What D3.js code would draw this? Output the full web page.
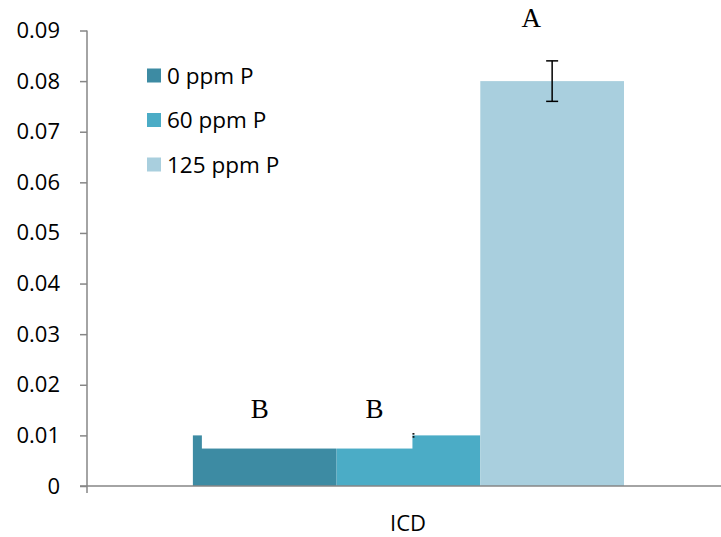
<!DOCTYPE html>
<html lang="en">
<head>
<meta charset="utf-8">
<script src="https://d3js.org/d3.v7.min.js"></script>
<style>
  body { margin: 0; background: #fff; }
  svg text { font-family: "Open Sans", Lato, sans-serif; }
</style>
</head>
<body>
<div id="chart"></div>
<script>
// data
const categories = ["ICD"];
const seriesNames = ["0 ppm P", "60 ppm P", "125 ppm P"];
const seriesValues = [0.01, 0.01, 0.08];
const seriesErrors = [0.0003, 0.0003, 0.004];
const letters = ["B", "B", "A"];
const yTicks = [0, 0.01, 0.02, 0.03, 0.04, 0.05, 0.06, 0.07, 0.08, 0.09];
const colours = ["#3d8ba3", "#4bacc6", "#a9cfde"];

const W = 721, H = 537;
const svg = d3.select("#chart").append("svg")
    .attr("width", W).attr("height", H);

const x0 = d3.scaleBand().domain(categories).range([87, 721]);
const x1 = d3.scaleBand().domain(seriesNames)
    .range([x0.bandwidth() * 0.167, x0.bandwidth() * 0.847]);
const y = d3.scaleLinear().domain([0, 0.09]).range([486, 30.5]);

const rows = seriesNames.map((s, i) => ({ name: s, value: seriesValues[i], err: seriesErrors[i], letter: letters[i], cat: categories[0] }));
const cx = d => x0(d.cat) + x1(d.name) + x1.bandwidth() / 2;

// bars
svg.selectAll("rect.bar").data(rows).join("rect")
    .attr("class", "bar")
    .attr("x", d => x0(d.cat) + x1(d.name))
    .attr("y", d => y(d.value))
    .attr("width", x1.bandwidth())
    .attr("height", d => y(0) - y(d.value))
    .attr("fill", (d, i) => colours[i]);

// error bars
const eb = svg.selectAll("g.err").data(rows).join("g").attr("class", "err")
    .attr("stroke", "#000").attr("stroke-width", 1.5);
eb.append("line").attr("x1", cx).attr("x2", cx)
    .attr("y1", d => y(d.value + d.err)).attr("y2", d => y(d.value - d.err));
eb.append("line").attr("x1", d => cx(d) - 6).attr("x2", d => cx(d) + 6)
    .attr("y1", d => y(d.value + d.err)).attr("y2", d => y(d.value + d.err));
eb.append("line").attr("x1", d => cx(d) - 6).attr("x2", d => cx(d) + 6)
    .attr("y1", d => y(d.value - d.err)).attr("y2", d => y(d.value - d.err));

// white text boxes over the two low bars
const b1 = rows[0], b2 = rows[1];
svg.append("rect")
    .attr("x", x0(b1.cat) + x1(b1.name) + 9)
    .attr("y", y(0.018))
    .attr("width", cx(b2) + 4 - (x0(b1.cat) + x1(b1.name) + 9))
    .attr("height", y(0.0074) - y(0.018))
    .attr("fill", "#fff");

// letters
const letterX = [cx(b1) - 5, cx(b2) - 34, cx(rows[2]) - 21];
const letterY = [y(0.0134), y(0.0134), y(0.0906)];
svg.selectAll("text.letter").data(rows).join("text")
    .attr("class", "letter")
    .attr("x", (d, i) => letterX[i])
    .attr("y", (d, i) => letterY[i])
    .attr("text-anchor", "middle")
    .style("font-family", "'Liberation Serif', 'Times New Roman', serif")
    .style("font-size", "27px")
    .text(d => d.letter);

// y axis
const yAxis = svg.append("g").attr("transform", "translate(87,0)")
    .call(d3.axisLeft(y).tickValues(yTicks).tickSize(7).tickPadding(20)
        .tickFormat(d => d === 0 ? "0" : d3.format(".2f")(d)));
yAxis.select(".domain").attr("stroke", "#868686").attr("stroke-width", 1.5)
    .attr("d", `M0,${y(0.09)}V${y(0) + 7}`);
yAxis.selectAll(".tick line").attr("stroke", "#868686").attr("stroke-width", 1.5);
yAxis.selectAll(".tick text").attr("fill", "#000").style("font-size", "22px");

// x axis
const xAxis = svg.append("g").attr("transform", `translate(0,${y(0)})`)
    .call(d3.axisBottom(x0).tickSize(0).tickPadding(29));
xAxis.select(".domain").attr("stroke", "#868686").attr("stroke-width", 1.5)
    .attr("d", `M80,0H721`);
xAxis.selectAll(".tick text").attr("fill", "#000").attr("dx", 4)
    .style("font-size", "22px");

// legend
const lg = svg.append("g").selectAll("g").data(seriesNames).join("g")
    .attr("transform", (d, i) => `translate(147,${75.5 + i * 44.5})`);
lg.append("rect").attr("x", 0).attr("y", -7).attr("width", 14).attr("height", 14)
    .attr("fill", (d, i) => colours[i]);
lg.append("text").attr("x", 20).attr("y", 8)
    .style("font-size", "22.5px").attr("fill", "#000").text(d => d);
</script>
</body>
</html>
